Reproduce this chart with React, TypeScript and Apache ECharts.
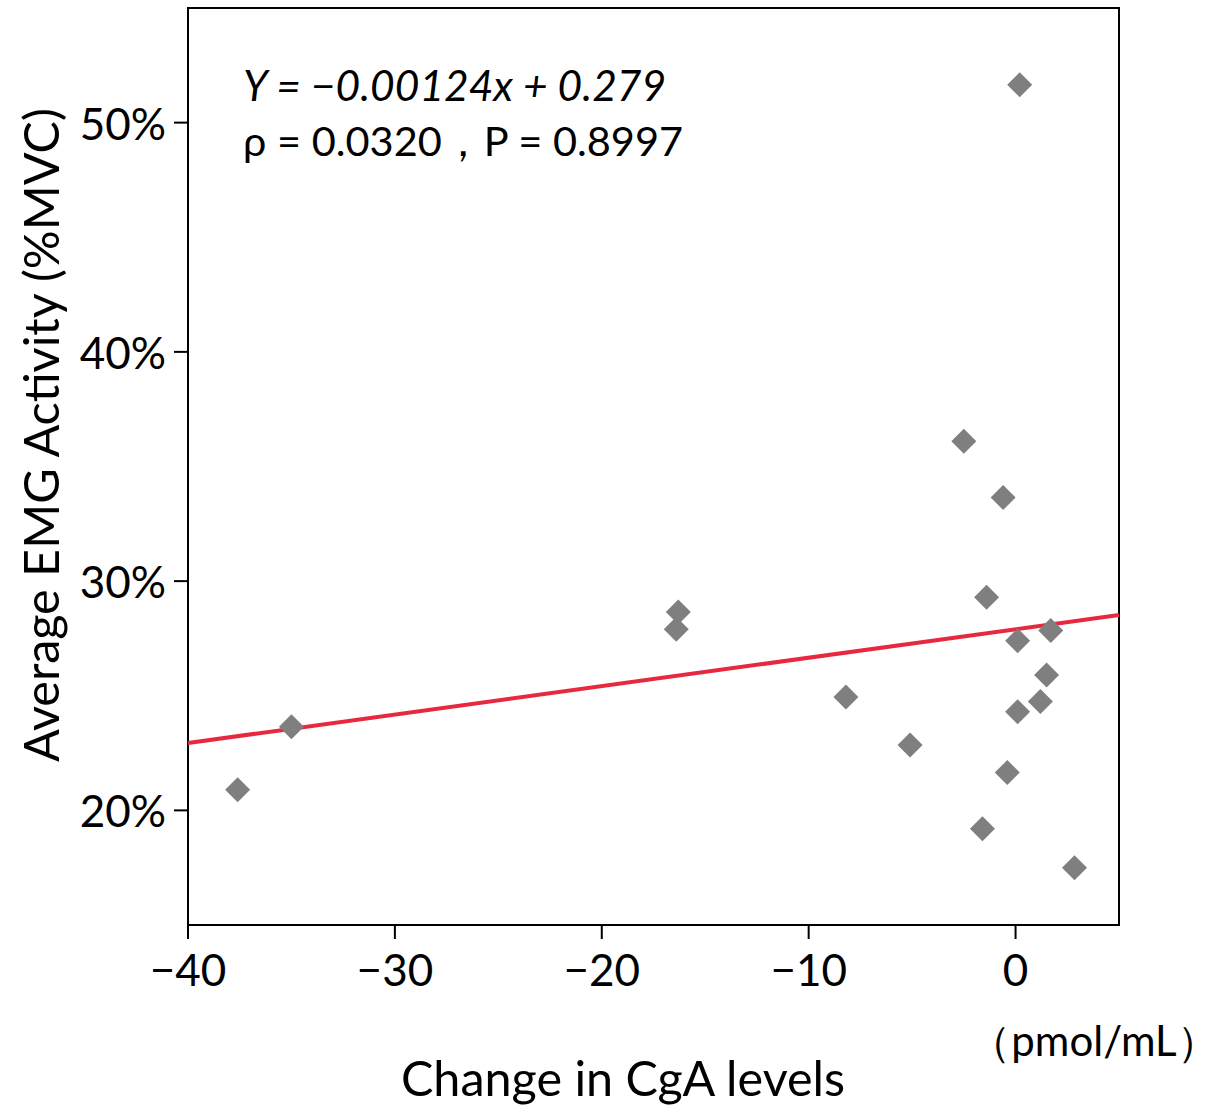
import React, { useEffect, useRef } from "react";
import * as echarts from "echarts";

const pointsX = [-37.6, -35.0, -16.3, -16.4, -8.2, -5.1, -2.5, -0.6, -1.4, 0.2, 0.1, 1.7, 1.5, 0.1, 1.2, -0.4, -1.6, 2.85];
const pointsY = [20.9, 23.65, 28.65, 27.9, 24.95, 22.85, 36.1, 33.65, 29.3, 51.65, 27.4, 27.85, 25.9, 24.3, 24.75, 21.65, 19.2, 17.5];
const fitX = [-40, 5];
const fitY = [22.94, 28.52];
const xTickValues = [-40, -30, -20, -10, 0];
const xTickLabels = ["\u221240", "\u221230", "\u221220", "\u221210", "0"];
const yTickValues = [20, 30, 40, 50];
const yTickLabels = ["20%", "30%", "40%", "50%"];
const equationText = "Y = \u22120.00124x + 0.279";
const statsText = "\u03c1 = 0.0320\uff0cP = 0.8997";
const xAxisTitle = "Change in CgA levels";
const unitText = "\uff08pmol/mL\uff09";
const yAxisTitle = "Average EMG Activity (%MVC)";

const X_MIN = -40;
const X_MAX = 5;
const Y_MIN = 15;
const Y_MAX = 55;
const TICK_LEN = 14;

const FONT = "Lato, 'Noto Sans', sans-serif";

export default function App() {
  const ref = useRef<HTMLDivElement>(null);
  useEffect(() => {
    if (!ref.current) return;
    const chart = echarts.init(ref.current, undefined, { renderer: "svg" });
    chart.setOption({
      animation: false,
      backgroundColor: "#ffffff",
      textStyle: { fontFamily: FONT },
      grid: {
        left: 188,
        top: 8,
        right: 100,
        bottom: 182,
        show: true,
        borderColor: "#000",
        borderWidth: 2,
        backgroundColor: "transparent",
      },
      xAxis: {
        type: "value",
        min: X_MIN,
        max: X_MAX,
        splitLine: { show: false },
        axisLine: { show: true, onZero: false, lineStyle: { color: "#000", width: 2 } },
        axisTick: { show: false },
        axisLabel: {
          customValues: xTickValues,
          formatter: (v: number) => xTickLabels[xTickValues.indexOf(v)] ?? "",
          color: "#000",
          fontSize: 44,
          fontFamily: FONT,
          margin: 22,
        },
      },
      yAxis: {
        type: "value",
        min: Y_MIN,
        max: Y_MAX,
        splitLine: { show: false },
        axisLine: { show: true, onZero: false, lineStyle: { color: "#000", width: 2 } },
        axisTick: { show: false },
        axisLabel: {
          customValues: yTickValues,
          formatter: (v: number) => yTickLabels[yTickValues.indexOf(v)] ?? "",
          color: "#000",
          fontSize: 44,
          fontFamily: FONT,
          margin: 22,
        },
      },
      series: [
        {
          type: "custom",
          clip: false,
          silent: true,
          data: xTickValues.map((v) => [v, Y_MIN]),
          renderItem: (params: any, api: any) => {
            const p = api.coord([api.value(0), api.value(1)]);
            return {
              type: "line",
              shape: { x1: p[0], y1: p[1], x2: p[0], y2: p[1] + TICK_LEN },
              style: { stroke: "#000", lineWidth: 2 },
            };
          },
          z: 1,
        },
        {
          type: "custom",
          clip: false,
          silent: true,
          data: yTickValues.map((v) => [X_MIN, v]),
          renderItem: (params: any, api: any) => {
            const p = api.coord([api.value(0), api.value(1)]);
            return {
              type: "line",
              shape: { x1: p[0] - TICK_LEN, y1: p[1], x2: p[0], y2: p[1] },
              style: { stroke: "#000", lineWidth: 2 },
            };
          },
          z: 1,
        },
        {
          type: "line",
          data: fitX.map((x, i) => [x, fitY[i]]),
          symbol: "none",
          lineStyle: { color: "#e8283f", width: 4 },
          z: 2,
        },
        {
          type: "scatter",
          data: pointsX.map((x, i) => [x, pointsY[i]]),
          symbol: "diamond",
          symbolSize: 25,
          itemStyle: { color: "#7f7f7f", opacity: 1 },
          z: 3,
        },
      ],
      graphic: [
        {
          type: "text",
          x: 243,
          y: 84,
          style: {
            text: equationText,
            fontSize: 42.5,
            fontStyle: "italic",
            fontFamily: FONT,
            fill: "#000",
            textAlign: "left",
            textVerticalAlign: "middle",
          },
        },
        {
          type: "text",
          x: 243,
          y: 140,
          style: {
            text: statsText,
            fontSize: 41.5,
            fontFamily: FONT,
            fill: "#000",
            textAlign: "left",
            textVerticalAlign: "middle",
          },
        },
        {
          type: "text",
          x: 623,
          y: 1077,
          style: {
            text: xAxisTitle,
            fontSize: 48.5,
            fontFamily: FONT,
            fill: "#000",
            textAlign: "center",
            textVerticalAlign: "middle",
          },
        },
        {
          type: "text",
          x: 1094,
          y: 1040,
          style: {
            text: unitText,
            fontSize: 42,
            fontFamily: FONT,
            fill: "#000",
            textAlign: "center",
            textVerticalAlign: "middle",
          },
        },
        {
          type: "text",
          x: 40,
          y: 435,
          rotation: Math.PI / 2,
          style: {
            text: yAxisTitle,
            fontSize: 48.5,
            fontFamily: FONT,
            fill: "#000",
            textAlign: "center",
            textVerticalAlign: "middle",
          },
        },
      ],
    });
    return () => chart.dispose();
  }, []);
  return (
    <div
      ref={ref}
      style={{ position: "fixed", left: 0, top: 0, width: 1219, height: 1107, background: "#fff" }}
    />
  );
}
